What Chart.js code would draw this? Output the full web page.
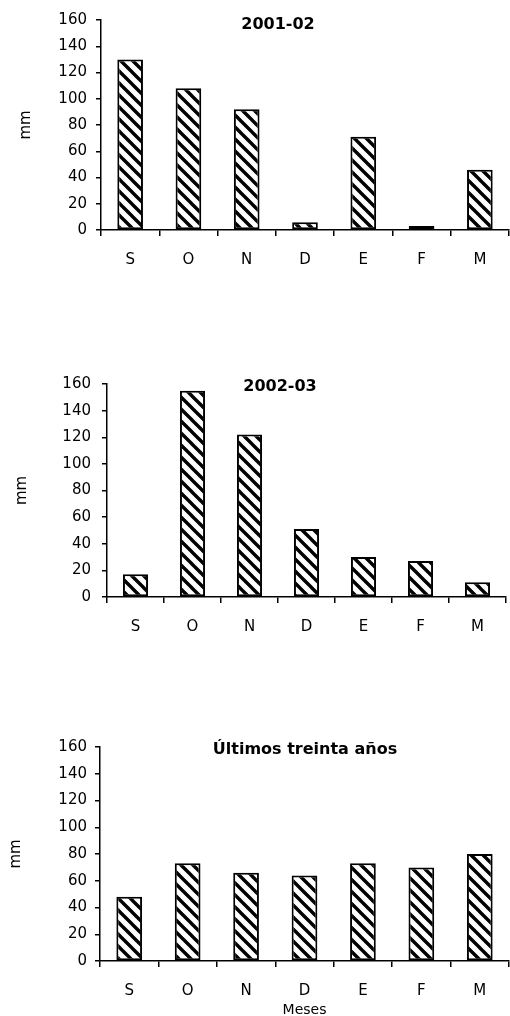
<!DOCTYPE html>
<html lang="es">
<head>
<meta charset="UTF-8">
<title>Precipitación mensual</title>
<script src="https://cdn.jsdelivr.net/npm/chart.js"></script>
<style>
  html, body { margin: 0; padding: 0; background: #fff; overflow: hidden; }
  .panel { position: absolute; left: 0; width: 510px; }
</style>
</head>
<body>
<div class="panel" style="top:0;height:275px"><canvas id="chart1"></canvas></div>
<div class="panel" style="top:360px;height:280px"><canvas id="chart2"></canvas></div>
<div class="panel" style="top:720px;height:310px"><canvas id="chart3"></canvas></div>

<script>
// Datos (mm de lluvia por mes, septiembre a marzo)
const meses = ['S', 'O', 'N', 'D', 'E', 'F', 'M'];
const lluvia2001 = [130, 108, 92, 6, 71, 3, 46];
const lluvia2002 = [17, 155, 122, 51, 30, 27, 11];
const lluviaTreinta = [48, 73, 66, 64, 73, 70, 80];
const yMin = 0, yMax = 160, yPaso = 20;

const fuente = { family: '"DejaVu Sans", sans-serif', size: 15 };

// Relleno rayado en diagonal
function crearRayado() {
    const t = 12;
    const c = document.createElement('canvas');
    c.width = t; c.height = t;
    const g = c.getContext('2d');
    g.fillStyle = '#fff';
    g.fillRect(0, 0, t, t);
    g.strokeStyle = '#000';
    g.lineWidth = 3.4;
    g.beginPath();
    g.moveTo(-t, -t); g.lineTo(2 * t, 2 * t);
    g.moveTo(-t, 0); g.lineTo(t, 2 * t);
    g.moveTo(0, -t); g.lineTo(2 * t, t);
    g.stroke();
    return g.createPattern(c, 'repeat');
}
const rayado = crearRayado();

// Título dentro del área del gráfico, como en el original
const tituloFijo = {
    id: 'tituloFijo',
    afterDraw(chart, args, opts) {
        const ctx = chart.ctx;
        ctx.save();
        ctx.font = 'bold 16px "DejaVu Sans", sans-serif';
        ctx.fillStyle = '#000';
        ctx.textAlign = 'center';
        ctx.textBaseline = 'middle';
        ctx.fillText(opts.text, opts.x, opts.y);
        ctx.restore();
    }
};

function initChart(id, valores, cfg) {
    return new Chart(document.getElementById(id), {
        type: 'bar',
        data: {
            labels: meses,
            datasets: [{
                data: valores,
                backgroundColor: rayado,
                borderColor: '#000',
                borderWidth: 2,
                borderSkipped: false,
                barPercentage: 0.44,
                categoryPercentage: 1
            }]
        },
        options: {
            responsive: true,
            maintainAspectRatio: false,
            animation: false,
            layout: { padding: { top: cfg.top, right: cfg.right, left: 0, bottom: 0 } },
            plugins: {
                legend: { display: false },
                tooltip: { enabled: false },
                tituloFijo: { text: cfg.titulo, x: cfg.tx, y: cfg.ty }
            },
            scales: {
                x: {
                    grid: { drawOnChartArea: false, color: '#000', lineWidth: 1.5, tickLength: 6, offset: true },
                    border: { color: '#000', width: 1.5 },
                    ticks: { color: '#000', padding: 15, font: fuente },
                    title: {
                        display: !!cfg.xTitulo,
                        text: cfg.xTitulo || '',
                        color: '#000',
                        font: { family: fuente.family, size: 14 },
                        padding: { top: 0, bottom: 11 }
                    },
                    afterFit: s => { s.height = cfg.xh; }
                },
                y: {
                    min: yMin,
                    max: yMax,
                    ticks: { stepSize: yPaso, color: '#000', padding: cfg.ypad, font: fuente },
                    grid: { drawOnChartArea: false, color: '#000', lineWidth: 1.5, tickLength: 5 },
                    border: { color: '#000', width: 1.5 },
                    title: {
                        display: true,
                        text: 'mm',
                        color: '#000',
                        font: fuente,
                        padding: { top: cfg.mmPad, bottom: 0 }
                    },
                    afterFit: s => { s.width = cfg.yw; }
                }
            }
        },
        plugins: [tituloFijo]
    });
}

initChart('chart1', lluvia2001, {
    titulo: '2001-02', tx: 278, ty: 25,
    top: 20, right: 1, xh: 45, yw: 101, ypad: 9, mmPad: 17
});
initChart('chart2', lluvia2002, {
    titulo: '2002-03', tx: 280, ty: 27,
    top: 24, right: 4, xh: 43, yw: 107, ypad: 11, mmPad: 13
});
initChart('chart3', lluviaTreinta, {
    titulo: 'Últimos treinta años', tx: 305, ty: 30,
    top: 27, right: 1, xh: 69, yw: 100, ypad: 8, mmPad: 7,
    xTitulo: 'Meses'
});
</script>
</body>
</html>
